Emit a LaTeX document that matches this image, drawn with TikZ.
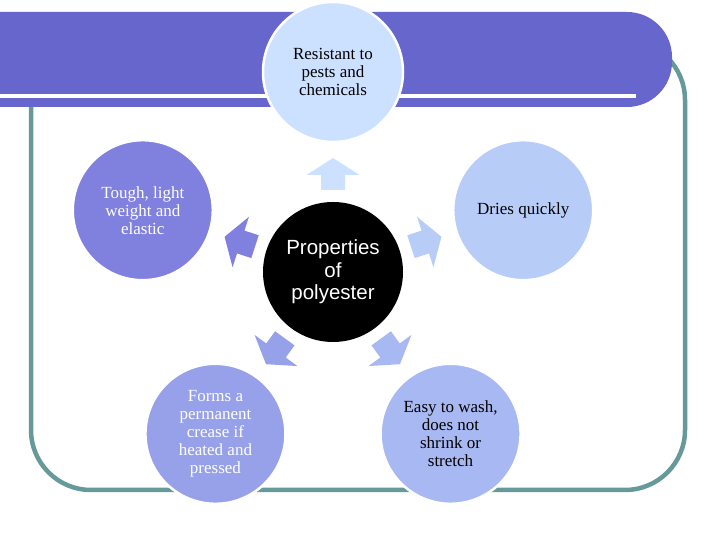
\documentclass[tikz,border=0pt]{standalone}
\usepackage{fontspec}
\setmainfont{Liberation Serif}
\newfontfamily\arialfont{Liberation Sans}
\usepackage{tikz}
\usetikzlibrary{shapes,arrows}
\definecolor{bannerblue}{HTML}{6666CC}
\definecolor{frameteal}{HTML}{669999}
\definecolor{propA}{HTML}{8080DF}
\definecolor{propB}{HTML}{97A1EA}
\definecolor{propC}{HTML}{A8B8F2}
\definecolor{propD}{HTML}{B8CCF8}
\definecolor{propE}{HTML}{CCE0FF}
\tikzstyle{frameline} = [draw=frameteal, line width=4.5pt, rounded corners=60pt]
\tikzstyle{propcircle} = [circle, draw=white, line width=2.5pt, minimum size=140pt, inner sep=0pt, align=center, font=\fontsize{17}{18}\selectfont]
\tikzstyle{hubcircle} = [circle, fill=black, minimum size=140pt, inner sep=0pt, align=center, text=white, font=\arialfont\fontsize{20.5}{22.5}\selectfont]

\begin{document}
\begin{tikzpicture}[x=1pt, y=1pt]
\useasboundingbox (0,0) rectangle (720,540);
\draw[frameline] (31,50) rectangle (685,500);
\fill[bannerblue] (0,433) [rounded corners=45pt]-- (672,433) -- (672,528) [sharp corners]-- (0,528) -- cycle;
\draw[white, line width=3.5pt] (0,444) -- (636,444);

\begin{scope}[shift={(333,268)}]
\node[hubcircle] (hub) at (0,0) {Properties\\of\\polyester};

\node[propcircle, fill=propE] (pests) at (90:200) {Resistant to\\pests and\\chemicals};
\node[propcircle, fill=propA, text=white] (tough) at (162:200) {Tough, light\\weight and\\elastic};
\node[propcircle, fill=propB, text=white] (crease) at (234:200) {Forms a\\permanent\\crease if\\heated and\\pressed};
\node[propcircle, fill=propC] (wash) at (306:200) {Easy to wash,\\does not\\shrink or\\stretch};
\node[propcircle, fill=propD] (dries) at (18:200) {Dries quickly};

\fill[propE, shift={(90:98)}, rotate=90] (16,0) -- (-1,26.5) -- (-1,12) -- (-16,12) -- (-16,-12) -- (-1,-12) -- (-1,-26.5) -- cycle;
\fill[propA, shift={(162:98)}, rotate=162] (16,0) -- (-1,26.5) -- (-1,12) -- (-16,12) -- (-16,-12) -- (-1,-12) -- (-1,-26.5) -- cycle;
\fill[propB, shift={(234:98)}, rotate=234] (16,0) -- (-1,26.5) -- (-1,12) -- (-16,12) -- (-16,-12) -- (-1,-12) -- (-1,-26.5) -- cycle;
\fill[propC, shift={(306:98)}, rotate=306] (16,0) -- (-1,26.5) -- (-1,12) -- (-16,12) -- (-16,-12) -- (-1,-12) -- (-1,-26.5) -- cycle;
\fill[propD, shift={(18:98)}, rotate=18] (16,0) -- (-1,26.5) -- (-1,12) -- (-16,12) -- (-16,-12) -- (-1,-12) -- (-1,-26.5) -- cycle;
\end{scope}
\end{tikzpicture}
\end{document}
